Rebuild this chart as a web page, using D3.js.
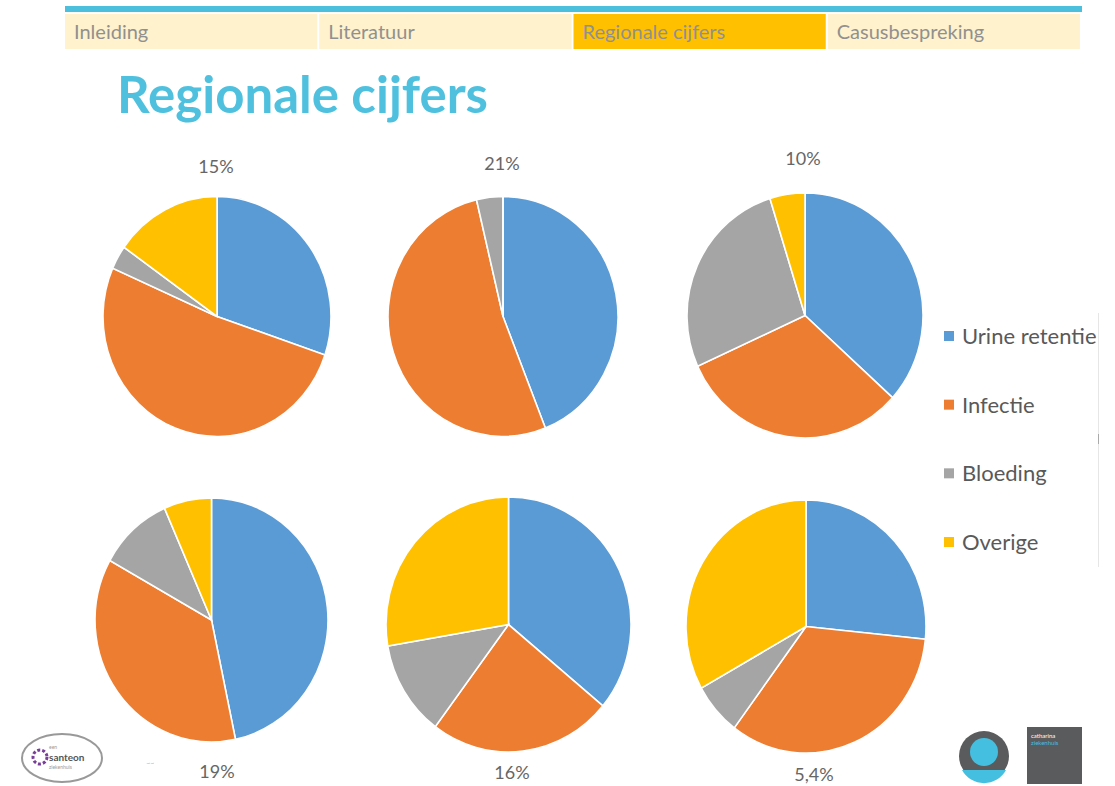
<!DOCTYPE html>
<html><head><meta charset="utf-8">
<script src="https://cdn.jsdelivr.net/npm/d3@7"></script>
<style>html,body{margin:0;padding:0;background:#fff;}svg{display:block;}</style>
</head><body>
<svg id="chart" width="1115" height="786"></svg>
<script>
const categories = ["Urine retentie", "Infectie", "Bloeding", "Overige"];
const colors = ["#5B9BD5", "#ED7D31", "#A5A5A5", "#FFC000"];
const pieLabels = ["15%", "21%", "10%", "19%", "16%", "5,4%"];
const pie1 = [30.2, 51.4, 3.2, 15.2];
const pie2 = [44.0, 52.3, 3.7, 0];
const pie3 = [36.7, 31.5, 27.0, 4.8];
const pie4 = [46.7, 36.4, 10.3, 6.6];
const pie5 = [36.0, 24.2, 12.1, 27.7];
const pie6 = [26.6, 33.6, 6.7, 33.1];
const navTabs = ["Inleiding", "Literatuur", "Regionale cijfers", "Casusbespreking"];
const activeTab = 2;
const title = "Regionale cijfers";

const svg = d3.select("#chart");

// nav bar
svg.append("rect").attr("x", 65).attr("y", 6).attr("width", 1017).attr("height", 6).attr("fill", "#4BBFDB");
const tabX = d3.scaleBand().domain(navTabs).range([65, 1082]);
const tabs = svg.selectAll("g.tab").data(navTabs).join("g").attr("class", "tab")
  .attr("transform", d => `translate(${tabX(d)},14)`);
tabs.append("rect").attr("width", tabX.bandwidth() - 2).attr("height", 35)
  .attr("fill", (d, i) => i === activeTab ? "#FFC000" : "#FFF2CC");
tabs.append("text").attr("x", 9).attr("y", 25).text(d => d)
  .attr("font-family", "Lato, 'Open Sans', sans-serif").attr("font-size", 20).attr("fill", "#909090");

// title
svg.append("text").attr("x", 117).attr("y", 113).text(title)
  .attr("font-family", "Lato, 'Open Sans', sans-serif").attr("font-weight", "bold")
  .attr("font-size", 52).attr("fill", "#4FC1DF")
  .attr("textLength", 371).attr("lengthAdjust", "spacingAndGlyphs");

// pies
const pies = [
  {v: pie1, cx: 217, cy: 316.5, rx: 114, ry: 120, lx: 216, ly: 173},
  {v: pie2, cx: 503, cy: 316.5, rx: 115, ry: 120, lx: 502, ly: 170},
  {v: pie3, cx: 805, cy: 315.5, rx: 118, ry: 122.5, lx: 803, ly: 165},
  {v: pie4, cx: 211.5, cy: 620, rx: 116.5, ry: 122, lx: 217, ly: 778},
  {v: pie5, cx: 508.5, cy: 624.5, rx: 122.5, ry: 127.5, lx: 512, ly: 779},
  {v: pie6, cx: 806, cy: 626.5, rx: 120, ry: 126.5, lx: 814, ly: 781}
];
const pieGen = d3.pie().sort(null).value(d => d);
const color = d3.scaleOrdinal().domain(categories).range(colors);
pies.forEach((p, i) => {
  const arc = d3.arc().innerRadius(0).outerRadius(p.rx);
  const g = svg.append("g").attr("transform", `translate(${p.cx},${p.cy}) scale(1,${p.ry / p.rx})`);
  g.selectAll("path").data(pieGen(p.v)).join("path")
    .attr("d", arc).attr("fill", (d, j) => color(categories[j]))
    .attr("stroke", "#fff").attr("stroke-width", 1.6).attr("vector-effect", "non-scaling-stroke");
  svg.append("text").attr("x", p.lx).attr("y", p.ly).attr("text-anchor", "middle")
    .text(pieLabels[i]).attr("font-family", "Lato, 'Open Sans', sans-serif")
    .attr("font-size", 18).attr("fill", "#666");
});

// legend
svg.append("clipPath").attr("id", "legclip").append("rect").attr("x", 930).attr("y", 300).attr("width", 168).attr("height", 300);
const legY = d3.scalePoint().domain(categories).range([336, 542]);
const leg = svg.append("g").attr("clip-path", "url(#legclip)");
const li = leg.selectAll("g").data(categories).join("g").attr("transform", d => `translate(944,${legY(d)})`);
li.append("rect").attr("x", 0).attr("y", -5).attr("width", 10).attr("height", 10).attr("fill", d => color(d));
li.append("text").attr("x", 18).attr("y", 8).text(d => d)
  .attr("font-family", "Lato, 'Open Sans', sans-serif").attr("font-size", 22).attr("fill", "#595959");
svg.append("line").attr("x1", 1098.5).attr("x2", 1098.5).attr("y1", 313).attr("y2", 567).attr("stroke", "#e6e6e6");
svg.append("line").attr("x1", 1098.5).attr("x2", 1098.5).attr("y1", 434).attr("y2", 444).attr("stroke", "#aaa");

// logos (decorative)
const lg = svg.append("g");
lg.append("ellipse").attr("cx", 62).attr("cy", 758).attr("rx", 40).attr("ry", 24).attr("fill", "#fff").attr("stroke", "#999").attr("stroke-width", 2);
lg.append("circle").attr("cx", 40).attr("cy", 757).attr("r", 7).attr("fill", "none").attr("stroke", "#7a3d9a").attr("stroke-width", 3).attr("stroke-dasharray", "3,2");
lg.append("text").attr("x", 49).attr("y", 761).text("santeon").attr("font-family", "Lato, sans-serif").attr("font-weight", "bold").attr("font-size", 10).attr("fill", "#555");
lg.append("text").attr("x", 49).attr("y", 749).text("een").attr("font-family", "Lato, sans-serif").attr("font-size", 5).attr("fill", "#999");
lg.append("text").attr("x", 49).attr("y", 769).text("ziekenhuis").attr("font-family", "Lato, sans-serif").attr("font-size", 5).attr("fill", "#999");
lg.append("text").attr("x", 146).attr("y", 766).text("~~").attr("font-family", "Lato, sans-serif").attr("font-size", 7).attr("fill", "#6fd0ea");
lg.append("circle").attr("cx", 984).attr("cy", 756).attr("r", 25).attr("fill", "#5a5b5d");
lg.append("circle").attr("cx", 984).attr("cy", 752).attr("r", 14).attr("fill", "#44bfe0");
lg.append("path").attr("d", "M962,770 L1006,770 A25,25 0 0 1 962,770 Z").attr("fill", "#44bfe0");
lg.append("rect").attr("x", 1027).attr("y", 727).attr("width", 55).attr("height", 57).attr("fill", "#5a5b5d");
lg.append("text").attr("x", 1031).attr("y", 738).text("catharina").attr("font-family", "Lato, sans-serif").attr("font-size", 6).attr("fill", "#fff");
lg.append("text").attr("x", 1031).attr("y", 745).text("ziekenhuis").attr("font-family", "Lato, sans-serif").attr("font-size", 6).attr("fill", "#44bfe0");
</script>
</body></html>
